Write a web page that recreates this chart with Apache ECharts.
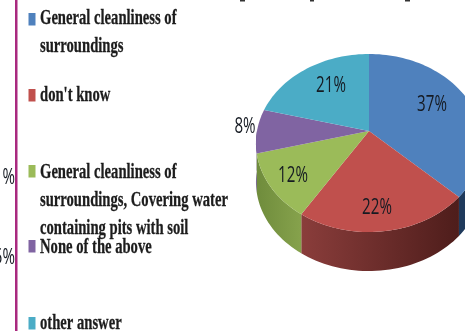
<!DOCTYPE html>
<html>
<head>
<meta charset="utf-8">
<style>html,body{margin:0;padding:0;background:#fff}#chart{width:465px;height:331px}</style>
<script src="https://cdn.jsdelivr.net/npm/echarts@6/dist/echarts.min.js"></script>
</head>
<body>
<div id="chart"></div>
<script>
// Survey answers and their shares, in percent.
const categories = [
  'General cleanliness of\nsurroundings',
  "don't know",
  'General cleanliness of\nsurroundings, Covering water\ncontaining pits with soil',
  'None of the above',
  'other answer'
];
const shares = [37, 22, 12, 8, 21];

const topColors = ['#4f81bd', '#c0504d', '#9bbb59', '#8064a2', '#4bacc6'];
const wallColors = [
  ['#1f3a5c', '#1f3a5c'],
  ['#8a3d3b', '#4e1d1b'],
  ['#6f8c3c', '#86a24c'],
  ['#5b4778', '#5b4778'],
  ['#32788c', '#32788c']
];
const labelOffsets = [[63, -26], [8, 77], [-76, 45], [-124, -4], [-38, -45]];
const legendTextCenters = [18, 95, 172, 247, 323];
const legendSwatchCenters = [19, 95, 171, 246, 323];

// Tilted disc: a unit circle seen under a mild perspective.
const apex = [369, 131], rx = 112, ry = 87.4, persp = 0.135, depth = 39;
const project = (deg) => {
  const a = deg * Math.PI / 180, X = Math.sin(a), Y = Math.cos(a), w = 1 + persp * Y;
  return [apex[0] + rx * X / w, apex[1] - ry * Y / w];
};
const arcPoints = (from, to) => {
  const pts = [], steps = Math.max(2, Math.ceil((to - from) / 2));
  for (let i = 0; i <= steps; i++) pts.push(project(from + (to - from) * i / steps));
  return pts;
};

let running = 0;
const spans = shares.map(v => { const s = [running, running + v]; running += v; return s; });

const renderSlice = (index) => (params, api) => {
  const from = api.value(0) * 3.6, to = api.value(1) * 3.6;
  const children = [];
  const wallFrom = Math.max(from, 90), wallTo = Math.min(to, 270);
  if (wallTo > wallFrom) {
    const edge = arcPoints(wallFrom, wallTo);
    const lower = edge.slice().reverse().map(p => [p[0], p[1] + depth]);
    const c = wallColors[index];
    children.push({
      type: 'polygon',
      shape: { points: edge.concat(lower) },
      style: {
        fill: new echarts.graphic.LinearGradient(0, 0, 1, 0, [
          { offset: 0, color: c[0] },
          { offset: 1, color: c[1] }
        ])
      }
    });
  }
  children.push({
    type: 'polygon',
    shape: { points: [apex].concat(arcPoints(from, to)) },
    style: { fill: topColors[index] }
  });
  children.push({
    type: 'text',
    x: apex[0] + labelOffsets[index][0],
    y: apex[1] + labelOffsets[index][1],
    scaleX: 0.72,
    style: {
      text: shares[index] + '%',
      font: '21px "Open Sans"',
      fill: '#151a22',
      align: 'center',
      verticalAlign: 'middle'
    }
  });
  return { type: 'group', children };
};

// Legend column, the clipped neighbouring labels and the frame line on the left.
const graphicElements = [
  { type: 'text', x: 15, y: 178, scaleX: 0.72, style: { text: '1%', font: '21px "Open Sans"', fill: '#151a22', align: 'right', verticalAlign: 'middle' } },
  { type: 'text', x: 15, y: 258, scaleX: 0.72, style: { text: '5%', font: '21px "Open Sans"', fill: '#151a22', align: 'right', verticalAlign: 'middle' } },
  { type: 'rect', shape: { x: 15, y: 0, width: 2.5, height: 331 }, style: { fill: '#a9297f' } },
  { type: 'rect', shape: { x: 240, y: 0, width: 5, height: 1.5 }, style: { fill: '#333' } },
  { type: 'rect', shape: { x: 310, y: 0, width: 4, height: 1.5 }, style: { fill: '#333' } },
  { type: 'rect', shape: { x: 405, y: 0, width: 5, height: 1.5 }, style: { fill: '#333' } }
];
categories.forEach((name, i) => {
  graphicElements.push({
    type: 'rect',
    shape: { x: 28.5, y: legendSwatchCenters[i] - 6, width: 7, height: 12.5 },
    style: { fill: topColors[i] }
  });
  graphicElements.push({
    type: 'text',
    x: 40,
    y: legendTextCenters[i] - 14,
    scaleX: 0.665,
    style: {
      text: name,
      font: 'bold 22px "Liberation Serif"',
      lineHeight: 28,
      fill: '#1c1c1c',
      stroke: '#1c1c1c',
      lineWidth: 0.3,
      align: 'left',
      verticalAlign: 'top'
    }
  });
});

const chart = echarts.init(document.getElementById('chart'), null, { renderer: 'canvas' });
chart.setOption({
  animation: false,
  backgroundColor: '#ffffff',
  graphic: graphicElements,
  series: categories.map((name, i) => ({
    type: 'custom',
    name,
    coordinateSystem: 'none',
    renderItem: renderSlice(i),
    data: [spans[i]]
  }))
});
</script>
</body>
</html>
